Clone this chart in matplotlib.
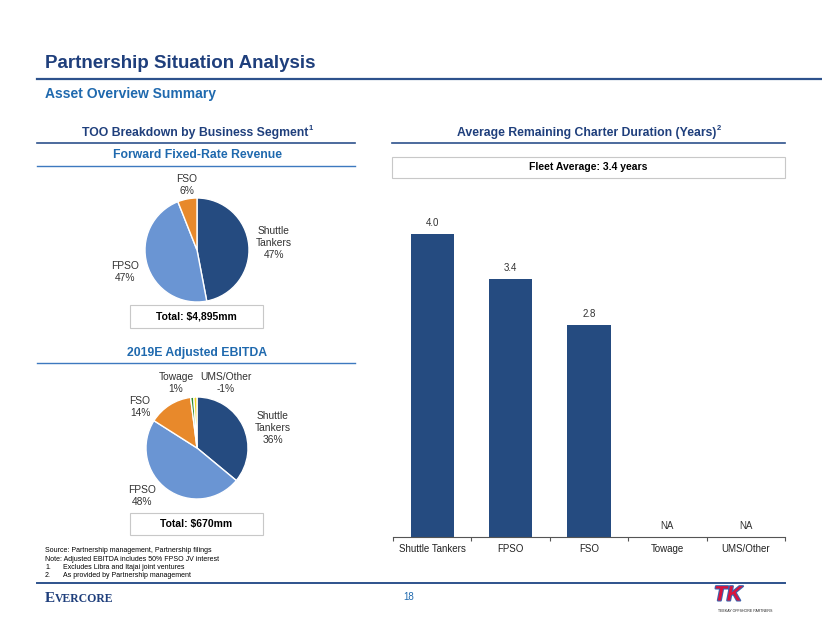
import matplotlib
matplotlib.use("Agg")
import matplotlib.pyplot as plt
from matplotlib.patches import Rectangle
import matplotlib.patheffects as pe

plt.rcParams["font.family"] = ["Liberation Sans", "DejaVu Sans"]

# data
rev_labels = ["Shuttle\nTankers", "FPSO", "FSO"]
rev_pct = [47, 47, 6]
rev_total = "Total: $4,895mm"

ebitda_labels = ["Shuttle\nTankers", "FPSO", "FSO", "Towage", "UMS/Other"]
ebitda_pct = [36, 48, 14, 1, -1]
ebitda_total = "Total: $670mm"

duration_cats = ["Shuttle Tankers", "FPSO", "FSO", "Towage", "UMS/Other"]
duration_years = [4.0, 3.4, 2.8, None, None]
fleet_avg = 3.4

NAVY = "#254B80"
LIGHT = "#6A95D3"
ORANGE = "#E8892B"
GREEN = "#2E8B2E"
YELLOW = "#F3D11C"
TITLE = "#1F3F7C"
SUB = "#1F69AE"
LINE = "#2D528C"

W, H = 822, 635
fig = plt.figure(figsize=(W / 100, H / 100), dpi=100)


def fx(x):
    return x / W


def fy(y):
    return 1 - y / H


def hline(y, x0, x1, color=LINE, lw=1.2):
    fig.add_artist(plt.Line2D([fx(x0), fx(x1)], [fy(y), fy(y)], color=color, lw=lw,
                              transform=fig.transFigure))


def box(x0, y0, x1, y1, text, size=7.5):
    fig.add_artist(Rectangle((fx(x0), fy(y1)), fx(x1) - fx(x0), fy(y0) - fy(y1),
                             transform=fig.transFigure, fill=False, ec="#c8c8c8", lw=0.8))
    fig.text(fx((x0 + x1) / 2), fy((y0 + y1) / 2), text, ha="center", va="center",
             fontsize=size, fontweight="bold", color="black")


def header(x, y, text, sup, color):
    t = fig.text(fx(x), fy(y), text, fontsize=8.8, fontweight="bold", color=color,
                 ha="center", va="center")
    if sup:
        fig.canvas.draw()
        bb = t.get_window_extent()
        fig.text(fx(bb.x1), fy(y - 4), sup, fontsize=5.5, fontweight="bold",
                 color=color, ha="left", va="center")


# header
fig.text(fx(45), fy(63), "Partnership Situation Analysis", fontsize=13.5, fontweight="bold",
         color=TITLE, va="center")
hline(79, 37, 822, lw=1.6)
fig.text(fx(45), fy(94), "Asset Overview Summary", fontsize=10, fontweight="bold",
         color=SUB, va="center")

# left section headers
header(195, 133, "TOO Breakdown by Business Segment", "1", TITLE)
hline(143, 37, 355)
header(197, 155, "Forward Fixed-Rate Revenue", None, SUB)
hline(166, 37, 355, color="#3d79bf", lw=1.0)


def pie(cx, cy, r, values, colors):
    ax = fig.add_axes([fx(cx - r), fy(cy + r), 2 * r / W, 2 * r / H])
    ax.pie([abs(v) for v in values], colors=colors, startangle=90, counterclock=False,
           wedgeprops=dict(edgecolor="white", linewidth=1.0))
    ax.set_xlim(-1, 1)
    ax.set_ylim(-1, 1)
    ax.set_aspect("equal")
    ax.axis("off")
    return ax


pie(197, 250, 52, rev_pct, [NAVY, LIGHT, ORANGE])
rev_pos = [(274, 243), (125, 272), (187, 185)]
for lab, v, (x, y) in zip(rev_labels, rev_pct, rev_pos):
    fig.text(fx(x), fy(y), f"{lab}\n{v}%", fontsize=7.4, color="#333333",
             ha="center", va="center", linespacing=1.3)
box(130, 305, 263, 328, rev_total)

header(197, 353, "2019E Adjusted EBITDA", None, SUB)
hline(363, 37, 355, color="#3d79bf", lw=1.0)

pie(197, 448, 51, ebitda_pct, [NAVY, LIGHT, ORANGE, GREEN, YELLOW])
eb_pos = [(273, 428), (142, 496), (140, 407), (176, 383), (226, 383)]
for lab, v, (x, y) in zip(ebitda_labels, ebitda_pct, eb_pos):
    fig.text(fx(x), fy(y), f"{lab}\n{v}%", fontsize=7.4, color="#333333",
             ha="center", va="center", linespacing=1.3)
box(130, 513, 263, 535, ebitda_total)

# right side
header(587, 133, "Average Remaining Charter Duration (Years)", "2", TITLE)
hline(143, 392, 785)
box(392, 157, 785, 178, f"Fleet Average: {fleet_avg} years")

ax = fig.add_axes([fx(393), fy(537), (785 - 393) / W, (537 - 190) / H])
xs = list(range(len(duration_cats)))
vals = [v if v is not None else 0 for v in duration_years]
ax.bar(xs, vals, width=0.55, color=NAVY)
for x, v in zip(xs, duration_years):
    txt = f"{v:.1f}" if v is not None else "NA"
    ax.text(x, (v or 0) + 0.08, txt, ha="center", va="bottom", fontsize=7, color="#333333")
ax.set_xlim(-0.5, len(xs) - 0.5)
ax.set_ylim(0, (537 - 190) / 75.75)
for s in ["top", "right", "left"]:
    ax.spines[s].set_visible(False)
ax.spines["bottom"].set_color("#555555")
ax.spines["bottom"].set_linewidth(0.8)
ax.set_yticks([])
ax.set_xticks([i - 0.5 for i in range(len(xs) + 1)])
ax.set_xticklabels([])
ax.set_xticks(xs, minor=True)
ax.set_xticklabels(duration_cats, minor=True, fontsize=7, color="#222222")
ax.tick_params(axis="x", which="major", length=3, width=0.8, color="#555555")
ax.tick_params(axis="x", which="minor", length=0, pad=5)

# footnotes
notes = [
    ("Source: Partnership management, Partnership filings", None),
    ("Note: Adjusted EBITDA includes 50% FPSO JV interest", None),
    ("1.", "Excludes Libra and Itajai joint ventures"),
    ("2.", "As provided by Partnership management"),
]
for i, (a, b) in enumerate(notes):
    y = 551 + i * 8.3
    fig.text(fx(45), fy(y), a, fontsize=5, color="black", va="center")
    if b:
        fig.text(fx(63), fy(y), b, fontsize=5, color="black", va="center")
hline(583, 37, 785, lw=1.4)

fig.text(fx(45), fy(598), "E", fontsize=11, color=TITLE, va="center", fontweight="bold",
         family=["Liberation Serif", "DejaVu Serif"])
fig.text(fx(55), fy(598.5), "VERCORE", fontsize=8.5, color=TITLE, va="center",
         fontweight="bold", family=["Liberation Serif", "DejaVu Serif"])
fig.text(fx(409), fy(597), "18", fontsize=7, color=SUB, ha="center", va="center")

tk = fig.text(fx(728), fy(595), "TK", fontsize=15, fontweight="bold", style="italic",
              color="#D9143C", ha="center", va="center")
tk.set_path_effects([pe.withStroke(linewidth=1.5, foreground="#3a64b0")])
fig.text(fx(745), fy(611), "TEEKAY OFFSHORE PARTNERS", fontsize=2.6, color="#222222",
         ha="center", va="center")

fig.savefig("out.png", dpi=100)
